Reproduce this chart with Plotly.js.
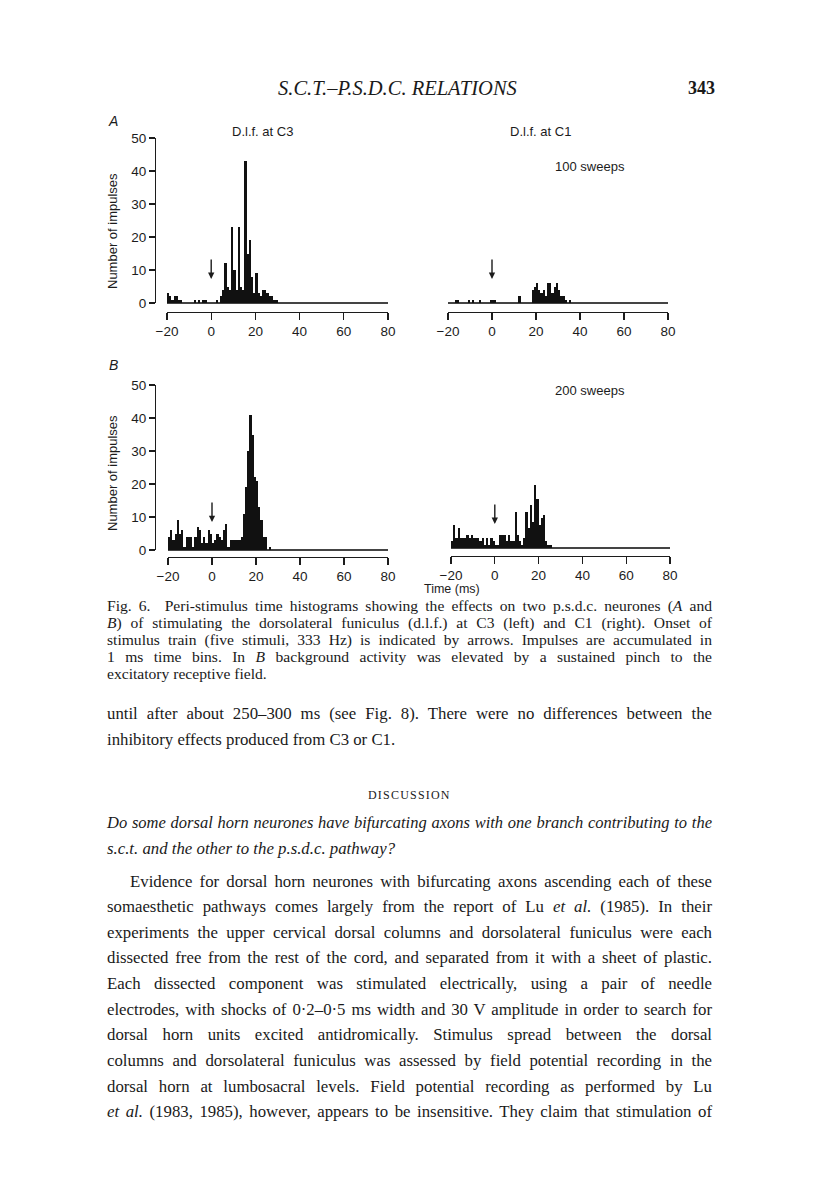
<!DOCTYPE html>
<html>
<head>
<meta charset="utf-8">
<script src="https://cdn.plot.ly/plotly-3.0.1.min.js"></script>
<style>
  body { margin: 0; background: #fff; }
  #page { position: relative; width: 816px; height: 1181px; overflow: hidden; }
  #plot { position: absolute; left: 0; top: 0; width: 816px; height: 1181px; }
  .ln { position: absolute; white-space: nowrap; font-family: "Liberation Serif", serif; color: #1a1a1a; z-index: 5; }
  .cap { left: 107px; width: 605px; font-size: 15.6px; line-height: 17px; }
  .body { left: 107px; width: 605px; font-size: 16.8px; line-height: 22px; }
  .j { text-align: justify; text-align-last: justify; }
</style>
</head>
<body>
<div id="page">
  <div id="plot"></div>
</div>
<script>
// bin start times (ms), 1 ms bins
const binStart = [-20,-19,-18,-17,-16,-15,-14,-13,-12,-11,-10,-9,-8,-7,-6,-5,-4,-3,-2,-1,
                  0,1,2,3,4,5,6,7,8,9,10,11,12,13,14,15,16,17,18,19,
                  20,21,22,23,24,25,26,27,28,29,30,31,32,33,34,35];

// neurone A, d.l.f. at C3 (100 sweeps)
const countsA_C3 = [3,2,1,2,2,1,1,0,0,0,0,0,1,0,1,0,1,1,0,0,
                    0,0,1,0,2,4,12,5,4,23,10,4,23,5,4,43,15,19,8,3,
                    9,3,2,4,4,3,2,2,1,1,0,0,0,0,0,0];
// neurone A, d.l.f. at C1
const countsA_C1 = [0,0,0,1,1,0,0,0,0,1,0,1,0,0,1,0,0,0,0,1,
                    1,1,0,0,0,0,0,0,0,0,0,0,2,0,0,0,0,0,4,5,
                    6,4,3,4,2,6,6,3,5,6,4,2,2,1,0,1];
// neurone B, d.l.f. at C3 (200 sweeps, pinch)
const countsB_C3 = [4,6,3,5,9,5,6,1,4,4,4,1,4,7,6,2,4,2,6,5,
                    2,3,5,4,3,6,8,1,3,3,3,3,3,4,11,19,30,41,35,22,
                    21,13,9,4,4,0,1,0,0,0,0,0,0,0,0,0];
// neurone B, d.l.f. at C1
const countsB_C1 = [2,7,3,6,3,3,3,4,3,4,3,3,3,2,3,1,3,1,3,2,
                    1,1,4,4,4,2,4,2,2,11,4,2,1,3,11,6,13,8,19,15,
                    7,9,10,2,1,1,0,0,0,0,0,0,0,0,0,0];

const xTicks = [-20, 0, 20, 40, 60, 80];
const yTicks = [0, 10, 20, 30, 40, 50];
// arrow tips (counts level) marking stimulus onset at 0 ms
const arrowTip = [7.3, 7.3, 8.5, 7.3];

const W = 816, H = 1181;
const px = X => X / W;
const py = Y => 1 - Y / H;

const sans = "Liberation Sans, Arial, sans-serif";
const ink = "#1c1c1c";

// panel boxes in page pixels: x0,x1 of the -20..80 range, baseline and 50 level
const panels = [
  {counts: countsA_C3, x0: 167, x1: 388, y0: 303, y50: 138, axisY: 312, yAxisX: 155, showY: true},
  {counts: countsA_C1, x0: 448, x1: 668, y0: 303, y50: 138, axisY: 312, showY: false},
  {counts: countsB_C3, x0: 168, x1: 388, y0: 550, y50: 385, axisY: 557, yAxisX: 155, showY: true},
  {counts: countsB_C1, x0: 451, x1: 670, y0: 548, y50: 383, axisY: 556, showY: false},
];

const traces = [];
const layout = {
  width: W, height: H,
  margin: {l: 0, r: 0, t: 0, b: 0},
  paper_bgcolor: "#fff", plot_bgcolor: "rgba(0,0,0,0)",
  showlegend: false, bargap: 0,
  font: {family: sans, color: ink, size: 13},
  annotations: [],
};

panels.forEach((p, i) => {
  const n = i + 1;
  const xa = "xaxis" + (n === 1 ? "" : n), ya = "yaxis" + (n === 1 ? "" : n);
  const xr = "x" + (n === 1 ? "" : n), yr = "y" + (n === 1 ? "" : n);
  traces.push({
    type: "bar", x: binStart, y: p.counts, xaxis: xr, yaxis: yr,
    width: 1, offset: 0,
    marker: {color: "#111", line: {width: 0}},
    hoverinfo: "x+y",
  });
  layout[xa] = {
    domain: [px(p.x0), px(p.x1)], range: [-20, 80],
    anchor: "free", position: py(p.axisY),
    showline: true, linecolor: ink, linewidth: 1.2,
    ticks: "outside", ticklen: 7, tickwidth: 1.2, tickcolor: ink,
    tickvals: xTicks, showgrid: false, zeroline: false,
    tickfont: {size: 13.5, family: sans, color: ink},
  };
  layout[ya] = {
    domain: [py(p.y0), py(p.y50)], range: [0, 50],
    showgrid: false, zeroline: true, zerolinecolor: "#444", zerolinewidth: 1.2,
    tickvals: yTicks,
    tickfont: {size: 13.5, family: sans, color: ink},
  };
  if (p.showY) {
    Object.assign(layout[ya], {
      anchor: "free", position: px(p.yAxisX),
      showline: true, linecolor: ink, linewidth: 1.2,
      ticks: "outside", ticklen: 6, tickwidth: 1.2, tickcolor: ink,
      showticklabels: true,
    });
  } else {
    Object.assign(layout[ya], {anchor: xr, showline: false, ticks: "", showticklabels: false});
  }
  layout.annotations.push({
    xref: xr, yref: yr, x: 0, y: arrowTip[i], ax: 0, ay: -21,
    text: "", showarrow: true, arrowhead: 2, arrowsize: 0.9, arrowwidth: 1.4, arrowcolor: ink,
  });
});

function label(text, X, Y, opts) {
  layout.annotations.push(Object.assign({
    xref: "paper", yref: "paper", x: px(X), y: py(Y), text: text,
    showarrow: false, xanchor: "center", yanchor: "middle",
    font: {family: sans, size: 13, color: ink},
  }, opts || {}));
}

label("D.l.f. at C3", 262, 131);
label("D.l.f. at C1", 540, 131);
label("100 sweeps", 590, 166);
label("200 sweeps", 590, 390);
label("<i>A</i>", 113, 121, {font: {family: sans, size: 14, color: ink}});
label("<i>B</i>", 113, 365, {font: {family: sans, size: 14, color: ink}});
label("Number of impulses", 112, 231, {textangle: -90});
label("Number of impulses", 112, 473, {textangle: -90});
label("Time (ms)", 452, 589, {font: {family: sans, size: 12.5, color: ink}});

Plotly.newPlot("plot", traces, layout, {staticPlot: true});

// page text
const lines = [
  {cls: "ln", top: 77, left: 278, style: "font-size:20.5px;font-style:italic;", html: "S.C.T.–P.S.D.C. RELATIONS"},
  {cls: "ln", top: 78, left: 688, style: "font-size:18px;font-weight:bold;", html: "343"},
  {cls: "ln cap j", top: 597, html: "Fig. 6.&nbsp; Peri-stimulus time histograms showing the effects on two p.s.d.c. neurones (<i>A</i> and"},
  {cls: "ln cap j", top: 614, html: "<i>B</i>) of stimulating the dorsolateral funiculus (d.l.f.) at C3 (left) and C1 (right). Onset of"},
  {cls: "ln cap j", top: 631, html: "stimulus train (five stimuli, 333 Hz) is indicated by arrows. Impulses are accumulated in"},
  {cls: "ln cap j", top: 648, html: "1 ms time bins. In <i>B</i> background activity was elevated by a sustained pinch to the"},
  {cls: "ln cap", top: 665, html: "excitatory receptive field."},
  {cls: "ln body j", top: 703, html: "until after about 250–300 ms (see Fig. 8). There were no differences between the"},
  {cls: "ln body", top: 729, html: "inhibitory effects produced from C3 or C1."},
  {cls: "ln", top: 788, left: 368, style: "font-size:12px;letter-spacing:1.2px;", html: "DISCUSSION"},
  {cls: "ln body j", top: 812, style: "font-size:16.5px;", html: "<i>Do some dorsal horn neurones have bifurcating axons with one branch contributing to the</i>"},
  {cls: "ln body", top: 838, html: "<i>s.c.t. and the other to the p.s.d.c. pathway?</i>"},
  {cls: "ln body j", top: 871, left: 130, width: 582, html: "Evidence for dorsal horn neurones with bifurcating axons ascending each of these"},
  {cls: "ln body j", top: 896, html: "somaesthetic pathways comes largely from the report of Lu <i>et al.</i> (1985). In their"},
  {cls: "ln body j", top: 922, html: "experiments the upper cervical dorsal columns and dorsolateral funiculus were each"},
  {cls: "ln body j", top: 947, html: "dissected free from the rest of the cord, and separated from it with a sheet of plastic."},
  {cls: "ln body j", top: 973, html: "Each dissected component was stimulated electrically, using a pair of needle"},
  {cls: "ln body j", top: 999, html: "electrodes, with shocks of 0·2–0·5 ms width and 30 V amplitude in order to search for"},
  {cls: "ln body j", top: 1024, html: "dorsal horn units excited antidromically. Stimulus spread between the dorsal"},
  {cls: "ln body j", top: 1050, html: "columns and dorsolateral funiculus was assessed by field potential recording in the"},
  {cls: "ln body j", top: 1076, html: "dorsal horn at lumbosacral levels. Field potential recording as performed by Lu"},
  {cls: "ln body j", top: 1101, html: "<i>et al.</i> (1983, 1985), however, appears to be insensitive. They claim that stimulation of"},
];

const page = document.getElementById("page");
lines.forEach(l => {
  const d = document.createElement("div");
  d.className = l.cls;
  d.style.cssText = (l.style || "") + "top:" + l.top + "px;" +
    (l.left !== undefined ? "left:" + l.left + "px;" : "") +
    (l.width !== undefined ? "width:" + l.width + "px;" : "");
  d.innerHTML = l.html;
  page.appendChild(d);
});
</script>
</body>
</html>
